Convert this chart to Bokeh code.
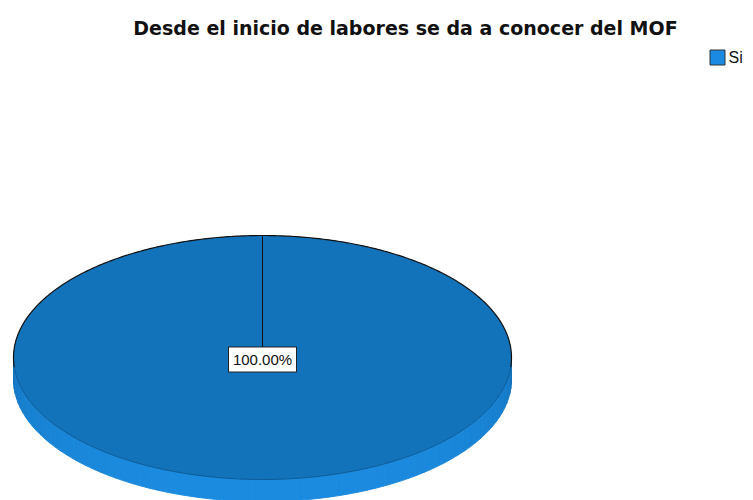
import numpy as np
from bokeh.plotting import figure
from bokeh.models import Range1d
from bokeh.core.properties import value
from bokeh.embed import file_html
from bokeh.resources import INLINE

# ---- data ----
chart_title = "Desde el inicio de labores se da a conocer del MOF"
categories = ["Si"]
percentages = [100.0]
slice_labels = ["100.00%"]
legend_colors = ["#1a8ae2"]
top_colors = ["#1273ba"]

# ---- layout ----
W, H = 753, 500
p = figure(width=W, height=H, output_backend="svg", toolbar_location=None,
           x_range=Range1d(0, W), y_range=Range1d(H, 0), min_border=0)
p.axis.visible = False
p.grid.visible = False
p.outline_line_color = None
p.background_fill_color = "white"
p.border_fill_color = "white"

cx, cy = 262, 357
rx, ry = 249, 122
depth = 22

# ---- side of the 3D pie (visible lower half) ----
side_dark = np.array([18, 108, 178])
side_light = np.array([28, 140, 225])
nstrips = 80
edges = np.linspace(np.pi, 2 * np.pi, nstrips + 1)
sx, sy, scol = [], [], []
for i in range(nstrips):
    tt = np.linspace(edges[i], edges[i + 1], 6)
    ax = cx + rx * np.cos(tt)
    ay = cy - ry * np.sin(tt)
    sx.append(list(ax) + list(ax[::-1]))
    sy.append(list(ay) + list(ay[::-1] + depth))
    tm = 0.5 * (edges[i] + edges[i + 1])
    f = np.sin(tm - np.pi) ** 0.4
    c = (side_dark + (side_light - side_dark) * f).astype(int)
    scol.append("#%02x%02x%02x" % tuple(c))
p.patches(sx, sy, fill_color=scol, line_color=scol, line_width=1)

# ---- top face slices ----
total = sum(percentages)
start = np.pi / 2
xs, ys = [], []
for v in percentages:
    sweep = 2 * np.pi * v / total
    tt = np.linspace(start, start - sweep, 400)
    px = [cx] + list(cx + rx * np.cos(tt)) + [cx]
    py = [cy] + list(cy - ry * np.sin(tt)) + [cy]
    xs.append(px)
    ys.append(py)
    start -= sweep
p.patches(xs, ys, fill_color=top_colors, line_color=None)

# outline: dark on the back rim, softer on the front rim
tb = np.linspace(-0.08, np.pi + 0.08, 300)
p.line(cx + rx * np.cos(tb), cy - ry * np.sin(tb), line_color="#111111", line_width=1.2)
tf = np.linspace(np.pi + 0.08, 2 * np.pi - 0.08, 300)
p.line(cx + rx * np.cos(tf), cy - ry * np.sin(tf), line_color="#0d5a94", line_width=1)

# radial separators from centre at each slice start
start = np.pi / 2
for v in percentages:
    p.line([cx, cx + rx * np.cos(start)], [cy, cy - ry * np.sin(start)],
           line_color="#111111", line_width=1)
    start -= 2 * np.pi * v / total

# ---- slice label ----
for lab in slice_labels:
    p.rect(x=[cx], y=[cy + 2], width=68, height=25, fill_color="white",
           line_color="#222222", line_width=1)
    p.text(x=[cx], y=[cy + 2], text=[lab], text_align="center",
           text_baseline="middle", text_font=value("Liberation Sans"),
           text_font_size="15px", text_color="#111111")

# ---- title ----
p.text(x=[405], y=[27], text=[chart_title], text_align="center",
       text_baseline="middle", text_font=value("DejaVu Sans"),
       text_font_style="bold", text_font_size="19px", text_color="#111111")

# ---- legend ----
for i, (cat, col) in enumerate(zip(categories, legend_colors)):
    ly = 57 + i * 20
    p.rect(x=[717], y=[ly], width=15, height=15, fill_color=col,
           line_color="#333333", line_width=1)
    p.text(x=[728], y=[ly], text=[cat], text_align="left",
           text_baseline="middle", text_font=value("Liberation Sans"),
           text_font_size="16px", text_color="#111111")

open("out.html", "w").write(file_html(p, INLINE))
